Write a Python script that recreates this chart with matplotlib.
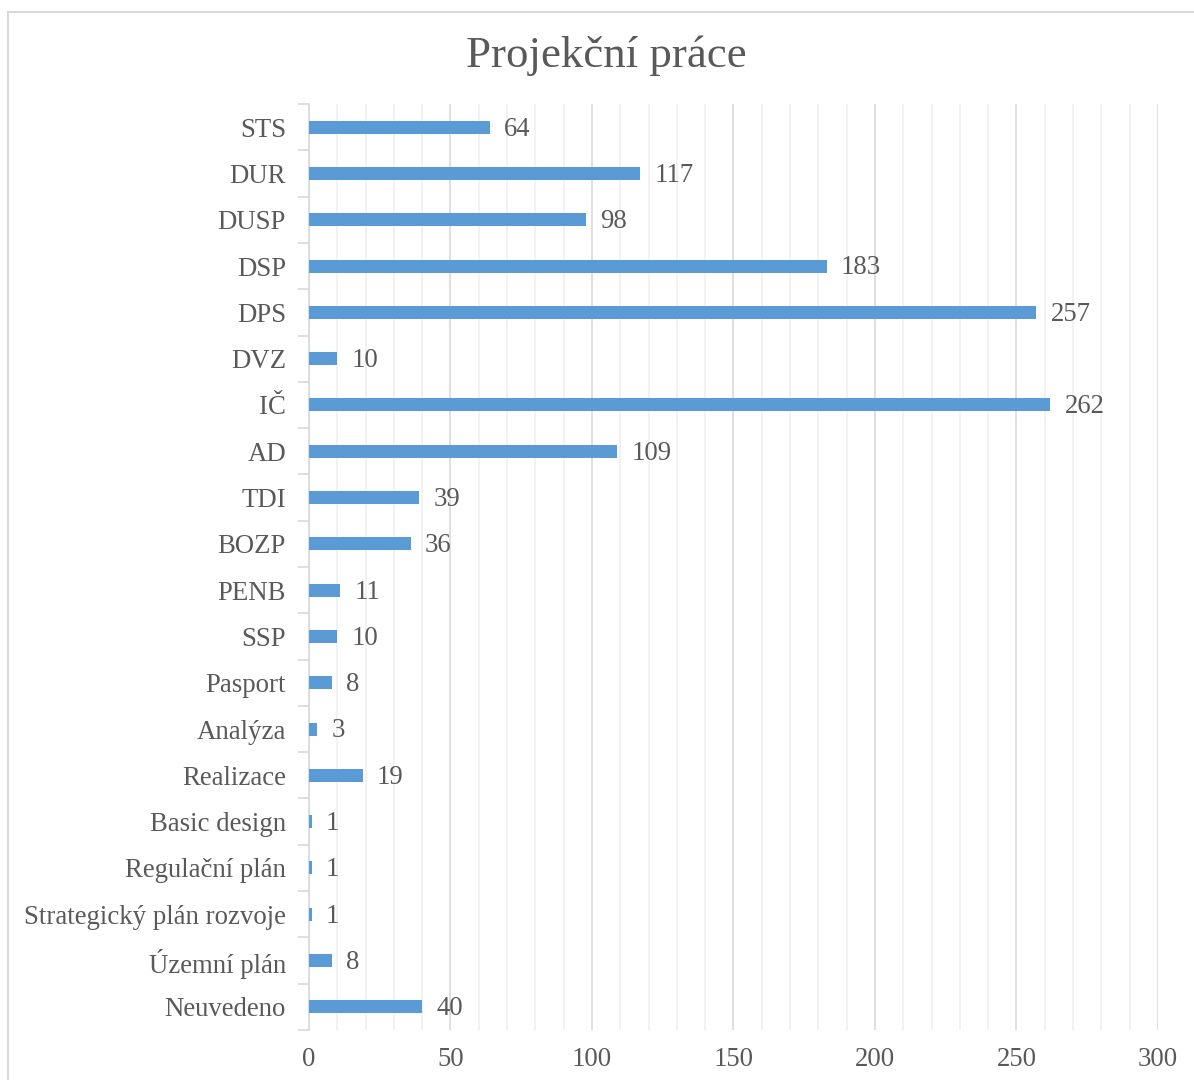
import numpy as np
import matplotlib.pyplot as plt
from matplotlib.patches import Rectangle
from matplotlib.ticker import MultipleLocator

plt.rcParams['font.family'] = ['Liberation Serif', 'DejaVu Serif']

# categories top -> bottom as in the chart
categories = ['STS', 'DUR', 'DUSP', 'DSP', 'DPS', 'DVZ', 'IČ', 'AD', 'TDI', 'BOZP',
              'PENB', 'SSP', 'Pasport', 'Analýza', 'Realizace', 'Basic design',
              'Regulační plán', 'Strategický plán rozvoje', 'Územní plán', 'Neuvedeno']
counts = [64, 117, 98, 183, 257, 10, 262, 109, 39, 36,
          11, 10, 8, 3, 19, 1, 1, 1, 8, 40]

txt = '#595959'
bar_col = '#5B9BD5'
fs = 19.3

fig = plt.figure(figsize=(11.94, 10.8), dpi=100)
ax = fig.add_axes([0.2588, 0.0463, 0.711, 0.8574])

y = np.arange(len(categories))
ax.barh(y, counts, height=0.28, color=bar_col, zorder=3)
for yi, v in zip(y, counts):
    ax.text(v + 5, yi + 0.04, str(v), va='center', ha='left', fontsize=fs, color=txt, zorder=4)

ax.set_ylim(len(categories) - 0.5, -0.5)
ax.set_xlim(0, 300)
ax.set_yticks(y)
ax.set_yticklabels(categories, fontsize=fs, color=txt)
ax.tick_params(axis='y', length=0, pad=16.5)
# category separator ticks on the left
ax.set_yticks(np.arange(-0.5, len(categories), 1), minor=True)
ax.tick_params(axis='y', which='minor', length=8, color='#D9D9D9', width=1.2)

ax.xaxis.set_major_locator(MultipleLocator(50))
ax.xaxis.set_minor_locator(MultipleLocator(10))
ax.tick_params(axis='x', which='both', length=0, labelsize=fs, labelcolor=txt, pad=12)
ax.grid(axis='x', which='major', color='#D9D9D9', linewidth=1.2, zorder=1)
ax.grid(axis='x', which='minor', color='#F0F0F0', linewidth=1.2, zorder=0)

for s in ['top', 'right', 'bottom']:
    ax.spines[s].set_visible(False)
ax.spines['left'].set_color('#D9D9D9')
ax.spines['left'].set_linewidth(1.2)

fig.text(0.508, 0.948, 'Projekční práce', ha='center', va='center', fontsize=32.3, color=txt)

# chart area border
fig.patches.append(Rectangle((8 / 1194, -0.05), 1.2, 1 - 12 / 1080 + 0.05,
                             transform=fig.transFigure, fill=False,
                             edgecolor='#D9D9D9', linewidth=1.5))

fig.savefig('out.png', dpi=100)
